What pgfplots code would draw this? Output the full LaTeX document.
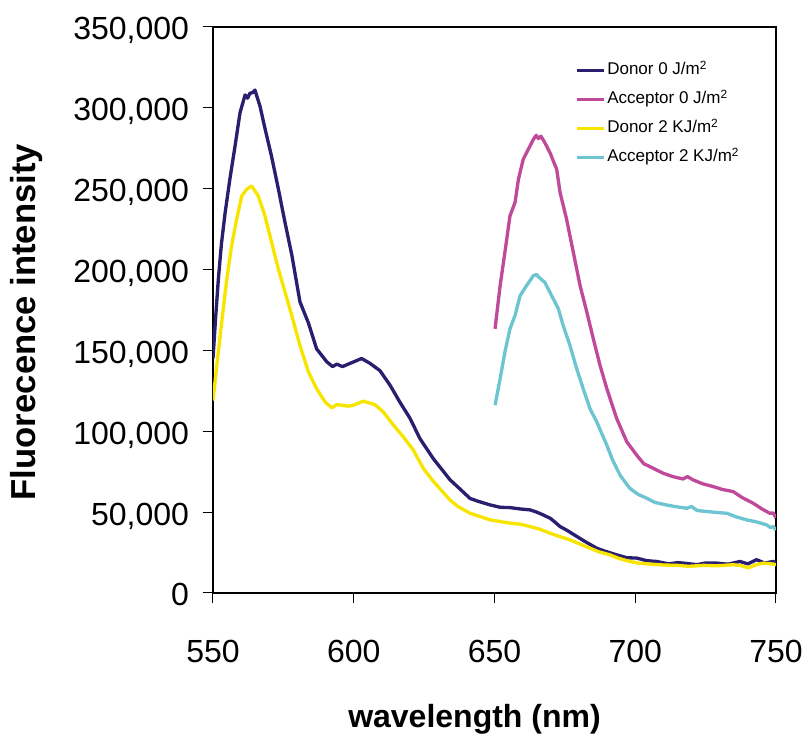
\documentclass[border=0pt]{standalone}
\usepackage{fontspec}
\setmainfont{Liberation Sans}
\usepackage{pgfplots}
\pgfplotsset{compat=1.18}
\definecolor{cnavy}{RGB}{42,31,110}
\definecolor{cmag}{RGB}{192,74,154}
\definecolor{cyel}{RGB}{247,229,0}
\definecolor{ccyan}{RGB}{108,197,209}
\begin{document}
\begin{tikzpicture}
\path[use as bounding box] (-159.75pt,-106.5pt) rectangle (443.25pt,444.75pt);
\begin{axis}[
  at={(0,0)}, anchor=south west,
  scale only axis, width=422.25pt, height=424.5pt,
  xmin=550, xmax=750, ymin=0, ymax=350000,
  xtick={550,600,650,700,750},
  ytick={0,50000,100000,150000,200000,250000,300000,350000},
  scaled y ticks=false,
  axis line style={line width=2pt},
  tick style={line width=0.75pt, black},
  tick align=outside, major tick length=7.5pt,
  xtick pos=bottom, ytick pos=left,
  ticklabel style={font=\fontsize{24}{28}\selectfont},
  xticklabel style={/pgf/number format/assume math mode=true, anchor=base, yshift=-44.25pt},
  yticklabel style={/pgf/number format/fixed, /pgf/number format/1000 sep={,}, /pgf/number format/assume math mode=true, anchor=base east, xshift=-7pt, yshift=-9.75pt},
  xlabel={wavelength (nm)},
  ylabel={Fluorecence intensity},
  every axis x label/.style={at={(axis description cs:0.5,0)}, anchor=base, yshift=-101.25pt, xshift=-15pt, font=\bfseries\fontsize{24}{28}\selectfont},
  every axis y label/.style={at={(axis description cs:0,0.5)}, xshift=-139.5pt, yshift=-9pt, rotate=90, anchor=center, font=\bfseries\fontsize{26}{30}\selectfont},
  legend style={at={(rel axis cs:0.643,0.943)}, anchor=north west, draw=none, fill=none, inner sep=0pt,
    font=\fontsize{12.75}{15}\selectfont, row sep=5.75pt, column sep=0pt,
    nodes={text height=10pt, text depth=3pt, inner sep=1.5pt}},
  legend cell align=left,
  legend image code/.code={\draw[#1] (0pt,0pt) -- (20pt,0pt);},
  every axis plot/.append style={line width=2.5pt, line join=round},
]
\addplot[cnavy] coordinates {
(550,145000)(551,172000)(551.9,194000)(553,216000)(554.3,235000)(556,256000)(557.8,276000)(559.6,297000)
(561.4,308000)(562.3,306000)(563.1,309000)(564.2,309500)(564.9,311000)(566.7,301000)(568.5,287000)
(570.8,270000)(573.2,250000)(575.6,229000)(578,209000)(580.9,180000)(583.9,167000)(586.8,151000)
(590.4,143000)(592.5,140000)(594,141500)(596,140000)(598.7,142000)(602.8,145000)(605.8,142000)
(609.3,137500)(612.9,128500)(616.4,118000)(620,108000)(623.5,95500)(628.3,83000)(634.2,70000)
(637,65500)(641.3,58500)(644,56800)(648.4,54500)(652,53000)(655.5,52800)(659,52000)(662.6,51400)(665,50000)(667.3,48300)
(670,46000)(673.3,41100)(676,38500)(679.2,35000)(682,32000)(686.3,27700)(689,26000)(693.4,23600)(697,21800)(700.5,21600)(704,20000)(707.6,19500)(712,18000)
(715,18800)(717.1,18500)(722,17500)(725,18600)(728.9,18500)(733,17800)(737.2,19500)(740,18000)(743.1,20600)(746,18500)
(749,19500)(750,18500)};
\addlegendentry{Donor 0 J/m\textsuperscript{2}}
\addplot[cmag] coordinates {
(650.2,163400)(652,190100)(653.7,210700)(655.5,233200)(657.3,241500)(658.5,255800)(660.2,268200)
(662,274300)(663.8,280500)(664.8,283000)(665.6,281000)(666.5,282500)(667.9,278400)(669.7,272300)
(672.1,262000)(673.3,247600)(675.6,231200)(678,210700)(680.4,190100)(682.8,173700)(685.1,157200)
(687.5,140700)(689.9,126400)(693.4,107900)(697,93500)(700.5,85300)(703,80000)(706.4,77100)(710,74000)
(713.5,71900)(717,70500)(718.5,72000)(720.6,69900)(724,67500)(727.7,65800)(731,64000)(734.8,62700)(738,59000)
(741.9,55500)(745,52000)(747.8,49300)(749,49500)(750,46500)};
\addlegendentry{Acceptor 0 J/m\textsuperscript{2}}
\addplot[cyel] coordinates {
(550,119000)(551.5,143000)(553.1,167500)(554.9,194000)(556.6,214700)(558.4,231000)(560.2,245500)
(562,249700)(563.7,251700)(566.1,245500)(568.5,233000)(570.8,217000)(573.2,200500)(575.6,186000)
(578,171500)(580.9,153000)(583.9,136700)(586.8,126400)(589.8,118200)(592.2,114500)(594,116500)
(596.3,116000)(598,115500)(599.8,116100)(603.4,118600)(607.5,116500)(610.5,112000)(614.1,103800)
(617.6,96600)(621.2,88300)(624.7,77100)(628.3,69000)(634.2,57500)(637,53500)(641.3,49300)(644,47800)(648.4,45200)
(652,44200)(655.5,43200)(659,42600)(662.6,41100)(666,39500)(669.7,37000)(673,35000)(676.8,32900)(680,30500)(683.9,27700)(687,25500)(691,23600)(694,21500)(698.1,19500)(701,18500)(705.2,17900)
(710,17300)(714.7,17100)(719,16500)(724.2,17100)(729,16800)(734.8,17500)(738,16800)(740,15500)(743,17500)(745.5,18500)(749,17900)(750,17500)};
\addlegendentry{Donor 2 KJ/m\textsuperscript{2}}
\addplot[ccyan] coordinates {
(650.2,116100)(652,132500)(653.7,149000)(655.5,163400)(657.3,171600)(659.1,183900)(661.4,190100)
(663.8,196200)(665,197000)(665.6,195500)(667.9,192100)(670.3,183900)(672.7,175700)(674.4,165400)
(676.8,153100)(679.2,138700)(681.5,126400)(683.9,114100)(686.3,105900)(689.9,91400)(692,82000)(694.6,72900)(696,69500)
(698.1,64700)(701,61000)(704.1,58600)(707,56000)(711.2,54400)(714,53500)(718.3,52400)(720,53500)(722,51000)
(725.4,50400)(729,49800)(732.5,49300)(736,47000)(739.6,45200)(743,44000)(746.7,42100)(748,40500)
(749,41100)(750,39000)};
\addlegendentry{Acceptor 2 KJ/m\textsuperscript{2}}
\end{axis}
\end{tikzpicture}
\end{document}
